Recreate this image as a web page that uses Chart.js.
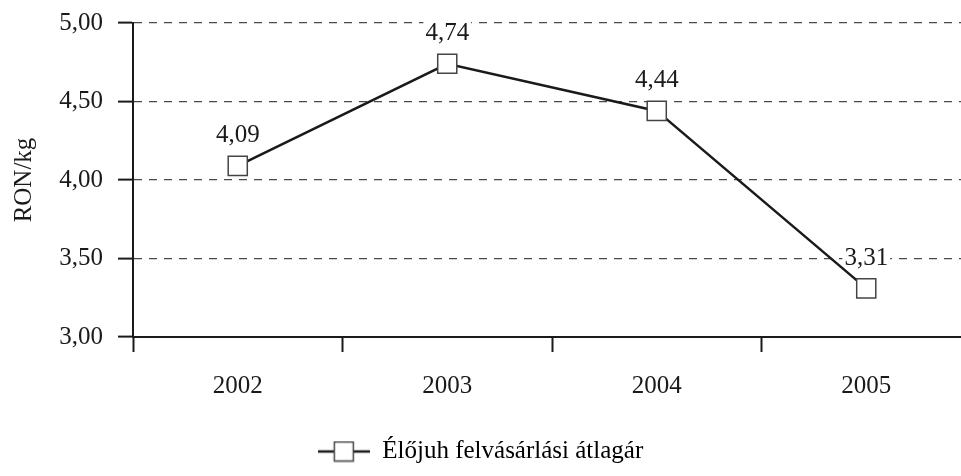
<!DOCTYPE html>
<html>
<head>
<meta charset="utf-8">
<script src="https://cdn.jsdelivr.net/npm/chart.js@4"></script>
<style>
  html, body { margin: 0; padding: 0; background: #fff; overflow: hidden; }
  #myChart { position: absolute; left: -10px; top: 0; }
</style>
</head>
<body>
<canvas id="myChart" width="981" height="476"></canvas>
<script>
// données
var years = ['2002', '2003', '2004', '2005'];
var prices = [4.09, 4.74, 4.44, 3.31];
var seriesName = 'Élőjuh felvásárlási átlagár';
var yTicks = [3.0, 3.5, 4.0, 4.5, 5.0];

var ink = '#1a1a1a';
var fontFamily = '"Liberation Serif", "Times New Roman", serif';
var fontSize = 25;

function fmt(v) {
    return v.toFixed(2).replace('.', ',');
}

// legend marker: line with square
var marker = document.createElement('canvas');
marker.width = 52;
marker.height = 22;
(function () {
    var c = marker.getContext('2d');
    c.strokeStyle = ink;
    c.lineWidth = 2.5;
    c.beginPath();
    c.moveTo(0, 11);
    c.lineTo(52, 11);
    c.stroke();
    c.fillStyle = '#fff';
    c.fillRect(16.5, 1.5, 19, 19);
    c.strokeStyle = '#444';
    c.lineWidth = 1.5;
    c.strokeRect(16.5, 1.5, 19, 19);
})();

// valeurs au-dessus des points (sous la ligne, au-dessus de la grille)
var valueLabels = {
    id: 'valueLabels',
    beforeDatasetsDraw: function (chart) {
        var ctx = chart.ctx;
        var meta = chart.getDatasetMeta(0);
        ctx.save();
        ctx.font = fontSize + 'px ' + fontFamily;
        ctx.textAlign = 'center';
        ctx.textBaseline = 'middle';
        meta.data.forEach(function (pt, i) {
            var txt = fmt(prices[i]);
            var w = ctx.measureText(txt).width;
            var y = pt.y - 31;
            ctx.fillStyle = '#fff';
            ctx.fillRect(pt.x - w / 2 - 2, y - 15, w + 4, 30);
            ctx.fillStyle = ink;
            ctx.fillText(txt, pt.x, y + 1);
        });
        ctx.restore();
    }
};

var ctx = document.getElementById('myChart').getContext('2d');
var myChart = new Chart(ctx, {
    type: 'line',
    data: {
        labels: years,
        datasets: [{
            label: seriesName,
            data: prices,
            borderColor: ink,
            borderWidth: 2.5,
            tension: 0,
            pointStyle: 'rect',
            pointRadius: 13.5,
            pointBackgroundColor: '#fff',
            pointBorderColor: '#444',
            pointBorderWidth: 1.5
        }]
    },
    options: {
        responsive: false,
        animation: false,
        layout: { autoPadding: false, padding: { top: 23, right: 0, bottom: 2, left: 0 } },
        plugins: {
            tooltip: { enabled: false },
            legend: {
                position: 'bottom',
                labels: {
                    usePointStyle: true,
                    pointStyleWidth: 52,
                    padding: 10,
                    color: ink,
                    font: { family: fontFamily, size: fontSize },
                    generateLabels: function () {
                        return [{ text: seriesName, pointStyle: marker, fillStyle: '#fff', strokeStyle: ink, lineWidth: 0, datasetIndex: 0 }];
                    }
                }
            }
        },
        scales: {
            x: {
                offset: true,
                grid: {
                    offset: true,
                    drawOnChartArea: false,
                    drawTicks: true,
                    tickLength: 15,
                    tickColor: ink,
                    tickWidth: 2
                },
                border: { color: ink, width: 2 },
                ticks: {
                    padding: 19,
                    color: ink,
                    font: { family: fontFamily, size: fontSize },
                    maxRotation: 0
                },
                afterFit: function (scale) { scale.height = 92; }
            },
            y: {
                min: 3,
                max: 5,
                afterBuildTicks: function (scale) {
                    scale.ticks = yTicks.map(function (v) { return { value: v }; });
                },
                grid: {
                    color: '#4a4a4a',
                    lineWidth: 1.2,
                    tickLength: 15,
                    tickColor: ink,
                    tickWidth: 2
                },
                border: { color: ink, width: 2, dash: [8, 7] },
                ticks: {
                    padding: 15,
                    color: ink,
                    font: { family: fontFamily, size: fontSize },
                    callback: function (v) { return fmt(v); }
                },
                title: {
                    display: true,
                    text: 'RON/kg',
                    color: ink,
                    font: { family: fontFamily, size: fontSize },
                    padding: { top: 19, bottom: 0 }
                },
                afterFit: function (scale) {
                    scale.width = 143;
                    scale.paddingTop = 0;
                    scale.paddingBottom = 0;
                }
            }
        }
    },
    plugins: [valueLabels]
});
</script>
</body>
</html>
